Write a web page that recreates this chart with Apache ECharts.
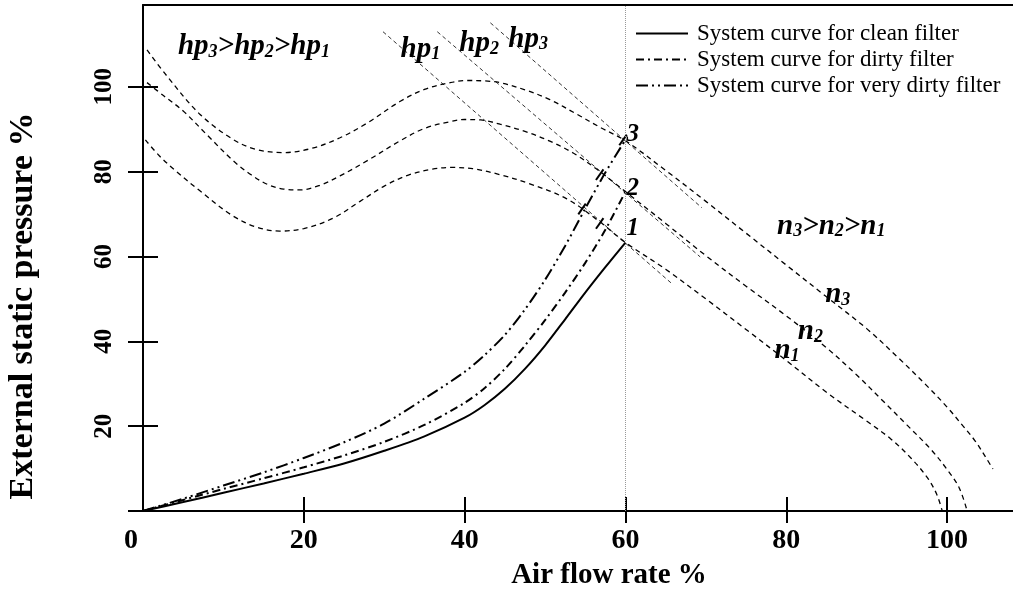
<!DOCTYPE html>
<html>
<head>
<meta charset="utf-8">
<script src="https://cdn.jsdelivr.net/npm/echarts@6/dist/echarts.min.js"></script>
<style>
html,body{margin:0;padding:0;background:#fff;}
#c{width:1013px;height:590px;}
</style>
</head>
<body>
<div id="c"></div>
<script>
// ---- data ----
const xTicks = [20, 40, 60, 80, 100];
const xTickLabels = [0, 20, 40, 60, 80, 100];
const yTicks = [0, 20, 40, 60, 80, 100];
const yTickLabels = [20, 40, 60, 80, 100];

const seriesNames = [
  'System curve for clean filter',
  'System curve for dirty filter',
  'System curve for very dirty filter'
];
const cleanCurve = [[0,0],[5,2.1],[10,4.3],[15,6.5],[20,8.8],[25,11.2],[30,14.2],[35,17.6],[40,22],[42.5,25],[45,28.8],[47.5,33.5],[50,39],[52.5,45.2],[55,51.5],[57.5,57.5],[60,63.3]];
const dirtyCurve = [[0,0],[5,2.6],[10,5.2],[15,7.7],[20,10.3],[25,13.1],[30,16.3],[35,20.3],[40,25.5],[42.5,29],[45,33.5],[47.5,39],[50,45],[52.5,51.5],[55,58.5],[57.5,66.3],[60,75.3]];
const veryDirtyCurve = [[0,0],[5,2.9],[10,6],[15,9.1],[20,12.5],[25,16.2],[30,20.6],[35,26.5],[40,32.8],[42.5,36.8],[45,41.5],[47.5,47.5],[50,54.5],[52.5,62.5],[55,71.3],[57.5,79.8],[60,87.5]];

const fanN1 = [[0.3,87.5],[2,83.8],[4,80.3],[7,75.6],[11,69.8],[14,67],[17,66],[20,66.6],[23.6,69],[27,73],[30,76.6],[33,79.2],[36,80.6],[38.5,81],[41,80.7],[44.4,79.3],[48,77.2],[52.7,73.6],[56.8,68.2],[60,63.3],[65,57],[70,50],[75,42.8],[80,35.5],[85,28],[90,21.2],[93,17],[95.5,12.5],[97.5,8],[98.7,4],[99.4,0]];
const fanN2 = [[0.5,101],[2.5,98],[5,94.3],[8,88.6],[11.2,82.6],[13.5,79.2],[15.5,77],[17.5,75.9],[19.5,75.7],[22,76.8],[24.5,79],[27.9,82.6],[32,87.3],[35,90.2],[38.2,91.8],[40,92.3],[42,92.2],[44.4,91.2],[47.5,89.5],[50.6,87.2],[53.5,84.4],[56.5,80.5],[60,75.3],[65,67.8],[70,60.2],[75,53],[80,46],[85,38.5],[88.8,32],[92,26],[95,20.3],[98,14.5],[100,9.8],[101.5,5.5],[102.5,0]];
const fanN3 = [[0.5,108.7],[3,102.5],[7.1,93.5],[11.2,87.6],[14,85.3],[17.4,84.5],[21,85.5],[24.5,88],[27.9,91.5],[32,96.6],[35,99.4],[38.2,101],[40.3,101.5],[42.5,101.4],[44.4,101],[47.5,99.3],[50.6,97],[54,93.5],[57,90.3],[60,87.3],[65,80.3],[70,73],[75,65.5],[80,58],[85,50.5],[90,43],[94,36],[97.5,29.5],[100,24.5],[102,20],[103.5,16.5],[104.7,13],[105.7,9.9]];

const hpLine1 = [[29.85,113],[65.9,53.4]];
const hpLine2 = [[36.6,113],[69.3,59.9]];
const hpLine3 = [[43.2,115.1],[69.5,71.5]];

const operatingPoints = [[60,63.3],[60,75.3],[60,87.5]];
const pointNames = ['1', '2', '3'];
const crossMarks = [[56.8,79.3],[54.6,71.2],[56.8,67.8],[59.7,87.5]];
const annotationPos = [[13.8,109.9],[34.5,109.2],[41.8,110.6],[47.9,111.6],[85.6,67.5],[86.4,51.4],[83,42.7],[80.1,38.2]];
const annotationText = [
  '{h|hp}{s|3}{h|>hp}{s|2}{h|>hp}{s|1}',
  '{h|hp}{s|1}',
  '{h|hp}{s|2}',
  '{h|hp}{s|3}',
  '{h|n}{s|3}{h|>n}{s|2}{h|>n}{s|1}',
  '{h|n}{s|3}',
  '{h|n}{s|2}',
  '{h|n}{s|1}'
];
const refLineX = 60;

// ---- chart ----
const FONT = "'Liberation Serif','Times New Roman',serif";
const chart = echarts.init(document.getElementById('c'), null, {renderer:'canvas'});

const fanStyle = {color:'#000', width:1.3, type:[5,4]};
const hpStyle = {color:'#000', width:0.8, type:[4,3]};
const pointLabelOffsets = [[0,-14],[0,-3],[0,-5]];

function fan(data){
  return {type:'line', data, smooth:0.35, symbol:'none', lineStyle:fanStyle, z:2, silent:true};
}
function hp(data){
  return {type:'line', data, symbol:'none', lineStyle:hpStyle, z:2, silent:true};
}

const opData = operatingPoints.map((p,i)=>({value:[p[0],p[1],pointNames[i]], label:{offset:pointLabelOffsets[i]}}));
const annData = annotationPos.map((p,i)=>[p[0],p[1],annotationText[i]]);

const option = {
  animation:false,
  backgroundColor:'#fff',
  textStyle:{fontFamily:FONT, color:'#000'},
  grid:{left:143, right:0, top:5, bottom:79, containLabel:false, outerBoundsMode:'none'},
  legend:{
    data:seriesNames,
    orient:'vertical',
    left:630, top:17,
    itemWidth:52, itemHeight:14, itemGap:3,
    itemStyle:{opacity:0},
    textStyle:{fontFamily:FONT, fontSize:23, lineHeight:23, color:'#000', padding:[0,0,0,4]},
    inactiveColor:'#000'
  },
  xAxis:[
    {type:'value', min:0, max:108.2, position:'bottom',
     axisLine:{show:true, onZero:false, lineStyle:{color:'#000', width:2}},
     axisTick:{show:true, inside:false, length:12, customValues:xTicks, lineStyle:{color:'#000', width:2}},
     axisLabel:{show:true, customValues:xTickLabels, margin:16, fontFamily:FONT, fontSize:28, fontWeight:'bold', color:'#000',
       formatter:function(v){ return v===0 ? '{z|0}' : String(v); },
       rich:{z:{fontFamily:FONT, fontSize:28, fontWeight:'bold', color:'#000', padding:[0,24,0,0]}}},
     splitLine:{show:false},
     name:'Air flow rate %', nameLocation:'middle', nameGap:50,
     nameTextStyle:{fontFamily:FONT, fontSize:29, fontWeight:'bold', color:'#000', padding:[0,0,0,62]}
    },
    {type:'value', min:0, max:108.2, position:'bottom',
     axisLine:{show:false, onZero:false},
     axisTick:{show:true, inside:true, length:14, customValues:xTicks, lineStyle:{color:'#000', width:2}},
     axisLabel:{show:false}, splitLine:{show:false}
    },
    {type:'value', min:0, max:108.2, position:'top',
     axisLine:{show:true, onZero:false, lineStyle:{color:'#000', width:2}},
     axisTick:{show:false}, axisLabel:{show:false}, splitLine:{show:false}
    }
  ],
  yAxis:[
    {type:'value', min:0, max:119.3, position:'left',
     axisLine:{show:true, onZero:false, lineStyle:{color:'#000', width:2}},
     axisTick:{show:true, inside:false, length:15, customValues:yTicks, lineStyle:{color:'#000', width:2}},
     axisLabel:{show:true, customValues:yTickLabels, rotate:90, margin:26, fontFamily:FONT, fontSize:25, fontWeight:'bold', color:'#000'},
     splitLine:{show:false},
     name:'External static pressure %', nameLocation:'middle', nameRotate:90, nameGap:103,
     nameTextStyle:{fontFamily:FONT, fontSize:34, fontWeight:'bold', color:'#000', padding:[0,96,0,0]}
    },
    {type:'value', min:0, max:119.3, position:'left',
     axisLine:{show:false, onZero:false},
     axisTick:{show:true, inside:true, length:15, customValues:yTicks, lineStyle:{color:'#000', width:2}},
     axisLabel:{show:false}, splitLine:{show:false}
    }
  ],
  series:[
    {name:seriesNames[0], type:'line', data:cleanCurve, smooth:0.3, symbol:'none',
     itemStyle:{color:'#000'}, lineStyle:{color:'#000', width:2, type:'solid'}, z:3,
     markLine:{silent:true, symbol:'none', label:{show:false},
       lineStyle:{color:'#999', width:1, type:[1,1]}, data:[{xAxis:refLineX}]}},
    {name:seriesNames[1], type:'line', data:dirtyCurve, smooth:0.3, symbol:'none',
     itemStyle:{color:'#000'}, lineStyle:{color:'#000', width:2, type:[8,4,2,4]}, z:3},
    {name:seriesNames[2], type:'line', data:veryDirtyCurve, smooth:0.3, symbol:'none',
     itemStyle:{color:'#000'}, lineStyle:{color:'#000', width:2, type:[12,4,2,4,2,4]}, z:3},
    fan(fanN1), fan(fanN2), fan(fanN3),
    hp(hpLine1), hp(hpLine2), hp(hpLine3),
    {type:'scatter', data:crossMarks, symbol:'rect', symbolSize:[2,13], symbolRotate:-35,
     itemStyle:{color:'#000', opacity:1}, z:4, silent:true},
    {type:'scatter', data:opData, symbolSize:0, z:5, silent:true, itemStyle:{opacity:1},
     label:{show:true, position:'right', distance:1, formatter:function(p){return p.value[2];},
       fontFamily:FONT, fontSize:25, fontWeight:'bold', fontStyle:'italic', color:'#000'}},
    {type:'scatter', data:annData, symbolSize:0, z:5, silent:true, itemStyle:{opacity:1},
     label:{show:true, position:'inside', formatter:function(p){return p.value[2];},
       rich:{
         h:{fontFamily:FONT, fontSize:29, fontWeight:'bold', fontStyle:'italic', color:'#000', lineHeight:32, verticalAlign:'bottom'},
         s:{fontFamily:FONT, fontSize:18, fontWeight:'bold', fontStyle:'italic', color:'#000', lineHeight:12, verticalAlign:'bottom'}
       }}}
  ]
};
chart.setOption(option);
</script>
</body>
</html>
